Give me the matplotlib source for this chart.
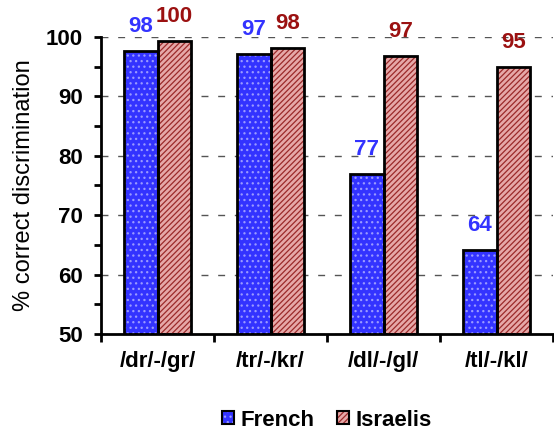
#!/usr/bin/env python3
import numpy as np
from matplotlib import pyplot as plt
from matplotlib.patches import Patch

categories = ['/dr/-/gr/', '/tr/-/kr/', '/dl/-/gl/', '/tl/-/kl/']
french = [97.7, 97.2, 77.0, 64.1]
israelis = [99.4, 98.1, 96.8, 95.0]
french_labels = ['98', '97', '77', '64']
israelis_labels = ['100', '98', '97', '95']


def hatched_bars(ax, x, h, base, hatch, hcolor, w):
    ax.bar(x, h, w, bottom=50, color=base, linewidth=0, zorder=2)
    ax.bar(x, h, w, bottom=50, facecolor='none', hatch=hatch,
           edgecolor=hcolor, linewidth=0, zorder=3)
    ax.bar(x, h, w, bottom=50, facecolor='none', edgecolor='black',
           linewidth=2, zorder=4)


def main():
    plt.rcParams['font.family'] = ['Liberation Sans', 'DejaVu Sans']
    plt.rcParams['hatch.linewidth'] = 0.9
    fig = plt.figure(figsize=(5.54, 4.33), dpi=100)
    ax = fig.add_axes([101/554, 99/433, 452/554, 297/433])

    x = np.arange(len(categories))
    w = 0.3
    fr = np.array(french) - 50
    il = np.array(israelis) - 50
    hatched_bars(ax, x - w/2, fr, '#3333ff', '...', '#9a9aff', w)
    hatched_bars(ax, x + w/2, il, '#e6a8a8', '//////', '#9b2a2a', w)

    for xi, v, t in zip(x - w/2, french, french_labels):
        ax.annotate(t, (xi, v), xytext=(0, 17.5), textcoords='offset points',
                    ha='center', va='center', color='#3333ff',
                    fontsize=16, fontweight='bold')
    for xi, v, t in zip(x + w/2, israelis, israelis_labels):
        ax.annotate(t, (xi, v), xytext=(0, 17.5), textcoords='offset points',
                    ha='center', va='center', color='#9b1111',
                    fontsize=16, fontweight='bold', annotation_clip=False)

    ax.set_xlim(-0.5, len(categories) - 0.5)
    ax.set_ylim(50, 100)
    ax.set_yticks(np.arange(50, 101, 10))
    ax.set_yticks(np.arange(55, 100, 10), minor=True)
    ax.set_xticks(np.arange(len(categories) + 1) - 0.5)
    ax.set_xticklabels([])
    ax.set_xticks(x, minor=True)
    ax.set_xticklabels(categories, minor=True, fontsize=16, fontweight='bold')
    ax.tick_params(axis='x', which='minor', length=0, pad=12)
    ax.tick_params(axis='x', which='major', length=6, width=2, direction='out')
    ax.tick_params(axis='y', which='both', length=5, width=2, direction='out')
    for lab in ax.get_yticklabels():
        lab.set_fontsize(16)
        lab.set_fontweight('bold')
    ax.tick_params(axis='y', which='major', pad=8)

    ax.yaxis.grid(True, which='major', linestyle=(0, (5, 7)), color='#555555',
                  linewidth=1, zorder=0)
    ax.set_axisbelow(True)
    for s in ['top', 'right']:
        ax.spines[s].set_visible(False)
    for s in ['left', 'bottom']:
        ax.spines[s].set_linewidth(2)
    ax.set_ylabel('% correct discrimination', fontsize=17, labelpad=8)

    h_fr = (Patch(facecolor='#3333ff', linewidth=0),
            Patch(facecolor='none', hatch='...', edgecolor='#9a9aff', linewidth=0),
            Patch(facecolor='none', edgecolor='black', linewidth=1.5))
    h_il = (Patch(facecolor='#e6a8a8', linewidth=0),
            Patch(facecolor='none', hatch='//////', edgecolor='#9b2a2a', linewidth=0),
            Patch(facecolor='none', edgecolor='black', linewidth=1.5))
    fig.legend([h_fr, h_il], ['French', 'Israelis'], loc='center',
               bbox_to_anchor=(327/554, 1 - 420/433), ncol=2, frameon=False,
               prop={'size': 16, 'weight': 'bold'}, handlelength=0.55,
               handleheight=0.55, handletextpad=0.3, columnspacing=1.0)

    fig.savefig('out.png', dpi=100)


if __name__ == '__main__':
    main()
